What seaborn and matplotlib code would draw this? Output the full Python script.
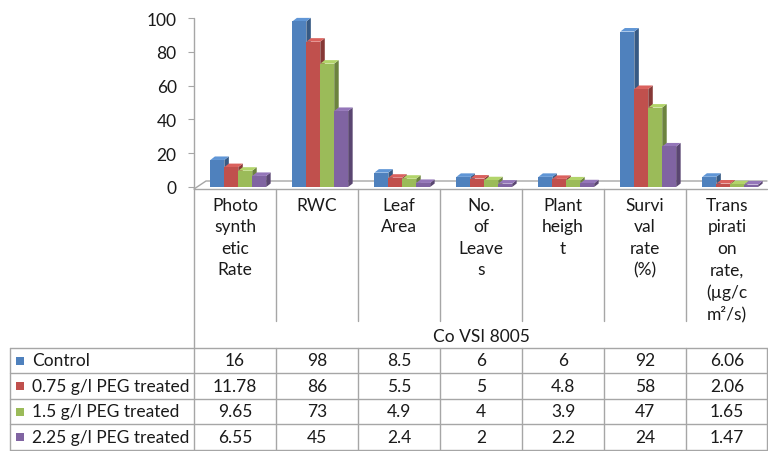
import pandas as pd
import seaborn as sns
from matplotlib import pyplot as plt
from matplotlib.patches import Polygon, Rectangle
from matplotlib.colors import to_rgb

categories = ["Photo synthetic Rate", "RWC", "Leaf Area", "No. of Leaves",
              "Plant height", "Survival rate (%)", "Transpiration rate, (µg/cm²/s)"]
cat_labels = ["Photo\nsynth\netic\nRate", "RWC", "Leaf\nArea", "No.\nof\nLeave\ns",
              "Plant\nheigh\nt", "Survi\nval\nrate\n(%)", "Trans\npirati\non\nrate,\n(µg/c\nm²/s)"]
treatments = ["Control", "0.75 g/l PEG treated", "1.5 g/l PEG treated", "2.25 g/l PEG treated"]
control = [16, 98, 8.5, 6, 6, 92, 6.06]
peg_075 = [11.78, 86, 5.5, 5, 4.8, 58, 2.06]
peg_15 = [9.65, 73, 4.9, 4, 3.9, 47, 1.65]
peg_225 = [6.55, 45, 2.4, 2, 2.2, 24, 1.47]
y_ticks = [0, 20, 40, 60, 80, 100]
axis_title = "Co VSI 8005"
colors = ["#4F81BD", "#C0504D", "#9BBB59", "#8064A2"]

series = [control, peg_075, peg_15, peg_225]
df = pd.DataFrame({
    "category": categories * len(treatments),
    "treatment": [t for t in treatments for _ in categories],
    "value": [v for s in series for v in s],
})

sns.set_theme(style="white")
plt.rcParams["font.family"] = ["Lato", "DejaVu Sans"]
FS = 12.5
TXT = "#1a1a1a"
LINE = "#a6a6a6"

W, H = 768, 452
fig = plt.figure(figsize=(W / 100, H / 100), dpi=100)

# overlay in pixel coordinates for the table and floor
ov = fig.add_axes([0, 0, 1, 1], zorder=0)
ov.set_xlim(0, W)
ov.set_ylim(H, 0)
ov.axis("off")

x_left, col_w = 194, 82
y0, y100 = 188, 19
ax = fig.add_axes([x_left / W, 1 - y0 / H, 7 * col_w / W, (y0 - y100) / H], zorder=1)
ax.patch.set_visible(False)

sns.barplot(data=df, x="category", y="value", hue="treatment", palette=colors,
            saturation=1, width=0.68, ax=ax, legend=False)
ax.set_xlim(-0.54, 6.46)
ax.set_ylim(0, 100)
ax.set_xticks([])
ax.set_xlabel("")
ax.set_ylabel("")
ax.set_yticks(y_ticks)
ax.tick_params(axis="y", left=True, length=4.5, width=0.8, color=LINE, pad=8,
               labelsize=FS, labelcolor=TXT)
for s in ax.spines.values():
    s.set_visible(False)

# 3D look: side and top faces for each bar
px_x = (7 * col_w) / 7.0
px_y = (y0 - y100) / 100.0
dx, dy = 4.5 / px_x, 3.5 / px_y
bars = sorted(ax.patches, key=lambda p: p.get_x())
for k, p in enumerate(bars):
    x0, w, h = p.get_x(), p.get_width(), p.get_height()
    base = to_rgb(p.get_facecolor())
    dark = tuple(c * 0.7 for c in base)
    light = tuple(min(1, c * 1.08 + 0.04) for c in base)
    z = 3 + 3 * k
    p.set_zorder(z)
    p.set_edgecolor("none")
    ax.add_patch(Polygon([(x0 + w, 0), (x0 + w + dx, dy), (x0 + w + dx, h + dy), (x0 + w, h)],
                         closed=True, facecolor=dark, edgecolor="none", zorder=z - 1, clip_on=False))
    ax.add_patch(Polygon([(x0, h), (x0 + dx, h + dy), (x0 + w + dx, h + dy), (x0 + w, h)],
                         closed=True, facecolor=light, edgecolor="none", zorder=z - 1, clip_on=False))

x_right = x_left + 7 * col_w - 1
# floor
ov.plot([x_left, x_right], [190, 190], color=LINE, lw=1)
ov.plot([x_left, 206, x_right], [190, 182, 182], color=LINE, lw=1)
# value axis line
ov.plot([x_left, x_left], [y100, H], color=LINE, lw=1)

# category labels with separators
for k, lab in enumerate(cat_labels):
    cx = x_left + col_w * (k + 0.5)
    ov.text(cx, 198, lab, ha="center", va="top", fontsize=FS, color=TXT, linespacing=1.42)
    if k > 0:
        ov.plot([x_left + col_w * k] * 2, [190, 322], color=LINE, lw=1)
ov.text(x_left + 3.5 * col_w, 337, axis_title, ha="center", va="center", fontsize=FS, color=TXT)

# data table
row_lines = [349, 374, 400, 425, 451]
for yl in row_lines:
    ov.plot([10, x_right], [yl, yl], color=LINE, lw=1)
for xl in [10] + [x_left + col_w * k for k in range(1, 7)] + [x_right]:
    ov.plot([xl, xl], [row_lines[0], row_lines[-1]], color=LINE, lw=1)
for i, (name, vals) in enumerate(zip(treatments, series)):
    cy = (row_lines[i] + row_lines[i + 1]) / 2
    ov.add_patch(Rectangle((16, cy - 4), 8, 8, facecolor=colors[i], edgecolor="none"))
    ov.text(32, cy, name, ha="left", va="center", fontsize=FS, color=TXT)
    for k, v in enumerate(vals):
        ov.text(x_left + col_w * (k + 0.5), cy, f"{v:g}", ha="center", va="center",
                fontsize=FS, color=TXT)

fig.savefig("out.png", dpi=100)
